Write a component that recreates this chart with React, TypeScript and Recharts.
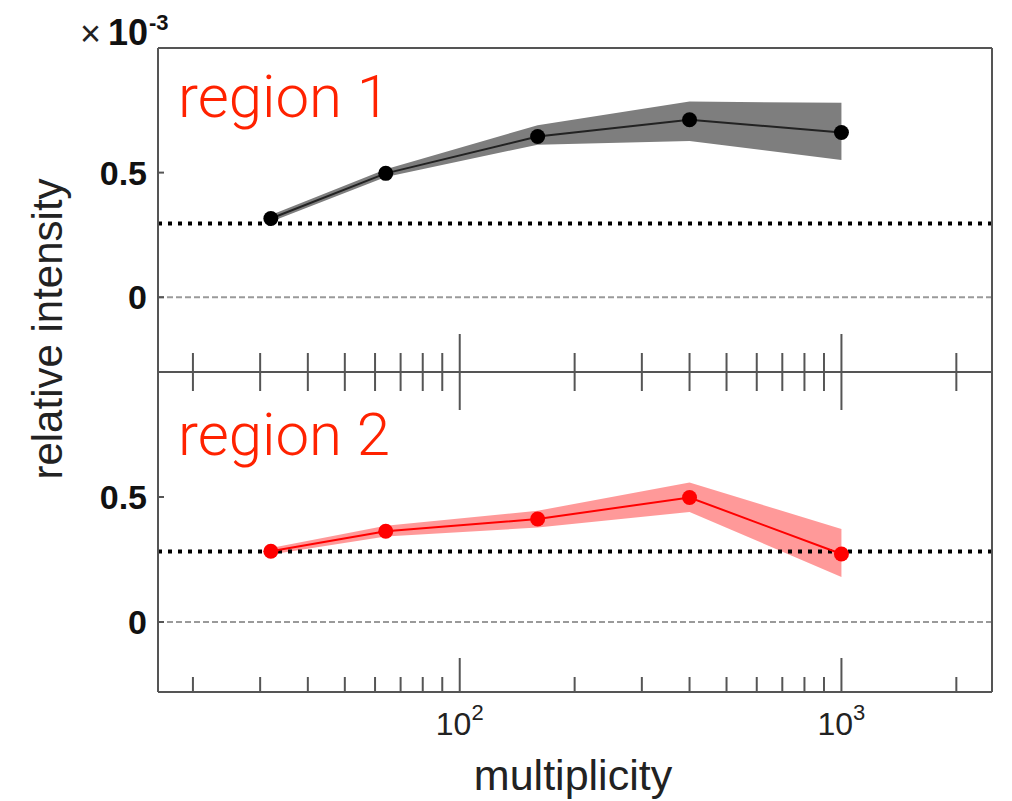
// Relative intensity vs multiplicity, two stacked panels (region 1 / region 2)
import React from 'react';
import { ComposedChart, Line, Area, XAxis, YAxis, ReferenceLine } from 'recharts';

// Data (y values in units of 10^-3)
const multiplicity = [32, 64, 160, 400, 1000];
const region1 = [0.316, 0.497, 0.645, 0.712, 0.661];
const region1Low = [0.303, 0.482, 0.612, 0.627, 0.551];
const region1High = [0.33, 0.514, 0.69, 0.785, 0.78];
const region2 = [0.283, 0.363, 0.412, 0.498, 0.272];
const region2Low = [0.27, 0.342, 0.378, 0.44, 0.18];
const region2High = [0.296, 0.385, 0.445, 0.558, 0.372];
const baseline1 = 0.296;
const baseline2 = 0.282;

const xTicks = [20, 30, 40, 50, 60, 70, 80, 90, 100, 200, 300, 400, 500, 600, 700, 800, 900, 1000, 2000];
const majorTicks = [100, 1000];
const yTicks = [0, 0.5];

const rows = multiplicity.map((m, i) => ({
  m,
  r1: region1[i],
  r1band: [region1Low[i], region1High[i]],
  r2: region2[i],
  r2band: [region2Low[i], region2High[i]],
}));

// layout
const W = 1012;
const H = 801;
const LEFT = 158;
const RIGHT = 992;
const TOP1 = 48;
const MID = 372;
const BOT2 = 692;
const X_DOMAIN = [16.2, 2480];
const AXIS = '#555';
const FONT = '"Liberation Sans", Arial, Helvetica, sans-serif';
// axis sizes (reserved space is taken out of the margins)
const YW = 60;
const XH = 30;
const RW = 10;

const CrossTick = (props: any) => {
  const { x, y, payload } = props;
  const h = majorTicks.includes(payload.value) ? 38 : 19;
  return <line x1={x} x2={x} y1={y - h} y2={y + h} stroke={AXIS} strokeWidth={2} />;
};

const UpTick = (props: any) => {
  const { x, y, payload } = props;
  const major = majorTicks.includes(payload.value);
  const h = major ? 34 : 15;
  return (
    <g>
      <line x1={x} x2={x} y1={y} y2={y - h} stroke={AXIS} strokeWidth={2} />
      {major && (
        <text x={x} y={y + 43} textAnchor="middle" fontSize={32} fill="#222" fontFamily={FONT}>
          10
          <tspan dy={-15} fontSize={22}>{Math.round(Math.log10(payload.value))}</tspan>
        </text>
      )}
    </g>
  );
};

const YTick = (props: any) => {
  const { x, y, payload } = props;
  return (
    <g>
      <line x1={x} x2={x + 6} y1={y} y2={y} stroke={AXIS} strokeWidth={2} />
      <text x={x - 11} y={y + 12} textAnchor="end" fontSize={34} fontWeight="bold" fill="#111" fontFamily={FONT}>
        {payload.value}
      </text>
    </g>
  );
};

const chartStyle: React.CSSProperties = { position: 'absolute', left: 0, top: 0 };

const TopPanel = () => (
  <div style={chartStyle}>
    <ComposedChart
      width={W}
      height={H}
      data={rows}
      margin={{ top: TOP1 - XH, left: LEFT - YW, right: W - RIGHT - RW, bottom: H - MID - XH }}
    >
      <XAxis
        dataKey="m"
        type="number"
        scale="log"
        domain={X_DOMAIN}
        allowDataOverflow
        ticks={xTicks}
        interval={0}
        height={XH}
        tickSize={0}
        tickMargin={0}
        tick={<CrossTick />}
        tickLine={false}
        axisLine={{ stroke: AXIS, strokeWidth: 2 }}
      />
      <XAxis
        xAxisId="top"
        orientation="top"
        dataKey="m"
        type="number"
        scale="log"
        domain={X_DOMAIN}
        allowDataOverflow
        height={XH}
        tick={false}
        tickLine={false}
        axisLine={{ stroke: AXIS, strokeWidth: 2 }}
      />
      <YAxis
        type="number"
        domain={[-0.3, 1.0]}
        allowDataOverflow
        ticks={yTicks}
        interval={0}
        width={YW}
        tickSize={0}
        tickMargin={0}
        tick={<YTick />}
        tickLine={false}
        axisLine={{ stroke: AXIS, strokeWidth: 2 }}
      />
      <YAxis
        yAxisId="right"
        orientation="right"
        type="number"
        domain={[-0.3, 1.0]}
        width={RW}
        tick={false}
        tickLine={false}
        axisLine={{ stroke: AXIS, strokeWidth: 2 }}
      />
      <ReferenceLine y={0} stroke="#9a9a9a" strokeWidth={2} strokeDasharray="6 3" />
      <Area
        dataKey="r1band"
        type="linear"
        stroke="none"
        fill="#7e7e7e"
        fillOpacity={1}
        isAnimationActive={false}
      />
      <ReferenceLine y={baseline1} stroke="#000" strokeWidth={4} strokeDasharray="4 6" />
      <Line
        dataKey="r1"
        type="linear"
        stroke="#222"
        strokeWidth={2}
        dot={{ r: 7.5, fill: '#000', stroke: '#000', strokeWidth: 0 }}
        isAnimationActive={false}
      />
    </ComposedChart>
  </div>
);

const BottomPanel = () => (
  <div style={chartStyle}>
    <ComposedChart
      width={W}
      height={H}
      data={rows}
      margin={{ top: MID, left: LEFT - YW, right: W - RIGHT - RW, bottom: H - BOT2 - XH }}
    >
      <XAxis
        dataKey="m"
        type="number"
        scale="log"
        domain={X_DOMAIN}
        allowDataOverflow
        ticks={xTicks}
        interval={0}
        height={XH}
        tickSize={0}
        tickMargin={0}
        tick={<UpTick />}
        tickLine={false}
        axisLine={{ stroke: AXIS, strokeWidth: 2 }}
      />
      <YAxis
        type="number"
        domain={[-0.28, 1.0]}
        allowDataOverflow
        ticks={yTicks}
        interval={0}
        width={YW}
        tickSize={0}
        tickMargin={0}
        tick={<YTick />}
        tickLine={false}
        axisLine={{ stroke: AXIS, strokeWidth: 2 }}
      />
      <YAxis
        yAxisId="right"
        orientation="right"
        type="number"
        domain={[-0.28, 1.0]}
        width={RW}
        tick={false}
        tickLine={false}
        axisLine={{ stroke: AXIS, strokeWidth: 2 }}
      />
      <ReferenceLine y={0} stroke="#9a9a9a" strokeWidth={2} strokeDasharray="6 3" />
      <Area
        dataKey="r2band"
        type="linear"
        stroke="none"
        fill="#ff0000"
        fillOpacity={0.4}
        isAnimationActive={false}
      />
      <ReferenceLine y={baseline2} stroke="#000" strokeWidth={4} strokeDasharray="4 6" />
      <Line
        dataKey="r2"
        type="linear"
        stroke="#ff0000"
        strokeWidth={2}
        dot={{ r: 7.5, fill: '#ff0000', stroke: '#ff0000', strokeWidth: 0 }}
        isAnimationActive={false}
      />
    </ComposedChart>
  </div>
);

const Labels = () => (
  <svg width={W} height={H} style={{ position: 'absolute', left: 0, top: 0, pointerEvents: 'none' }}>
    <text x={80} y={46} fontSize={36} fill="#222" fontFamily={FONT}>×</text>
    <text x={108} y={45} fontSize={36} fontWeight="bold" fill="#111" fontFamily={FONT}>10</text>
    <text x={149} y={30} fontSize={22} fontWeight="bold" fill="#111" fontFamily={FONT}>-3</text>
    <text x={178} y={117} fontSize={60} fontWeight={300} fill="#ff2200" fontFamily="Roboto, 'Liberation Sans', sans-serif">
      region 1
    </text>
    <text x={178} y={455} fontSize={60} fontWeight={300} fill="#ff2200" fontFamily="Roboto, 'Liberation Sans', sans-serif">
      region 2
    </text>
    <text
      x={62}
      y={329}
      textAnchor="middle"
      fontSize={42}
      fill="#222"
      fontFamily={FONT}
      transform="rotate(-90 62 329)"
    >
      relative intensity
    </text>
    <text x={573} y={790} textAnchor="middle" fontSize={43} fill="#222" fontFamily={FONT}>
      multiplicity
    </text>
  </svg>
);

export default function App() {
  return (
    <div style={{ position: 'absolute', left: 0, top: 0, width: W, height: H, background: '#fff' }}>
      <TopPanel />
      <BottomPanel />
      <Labels />
    </div>
  );
}
